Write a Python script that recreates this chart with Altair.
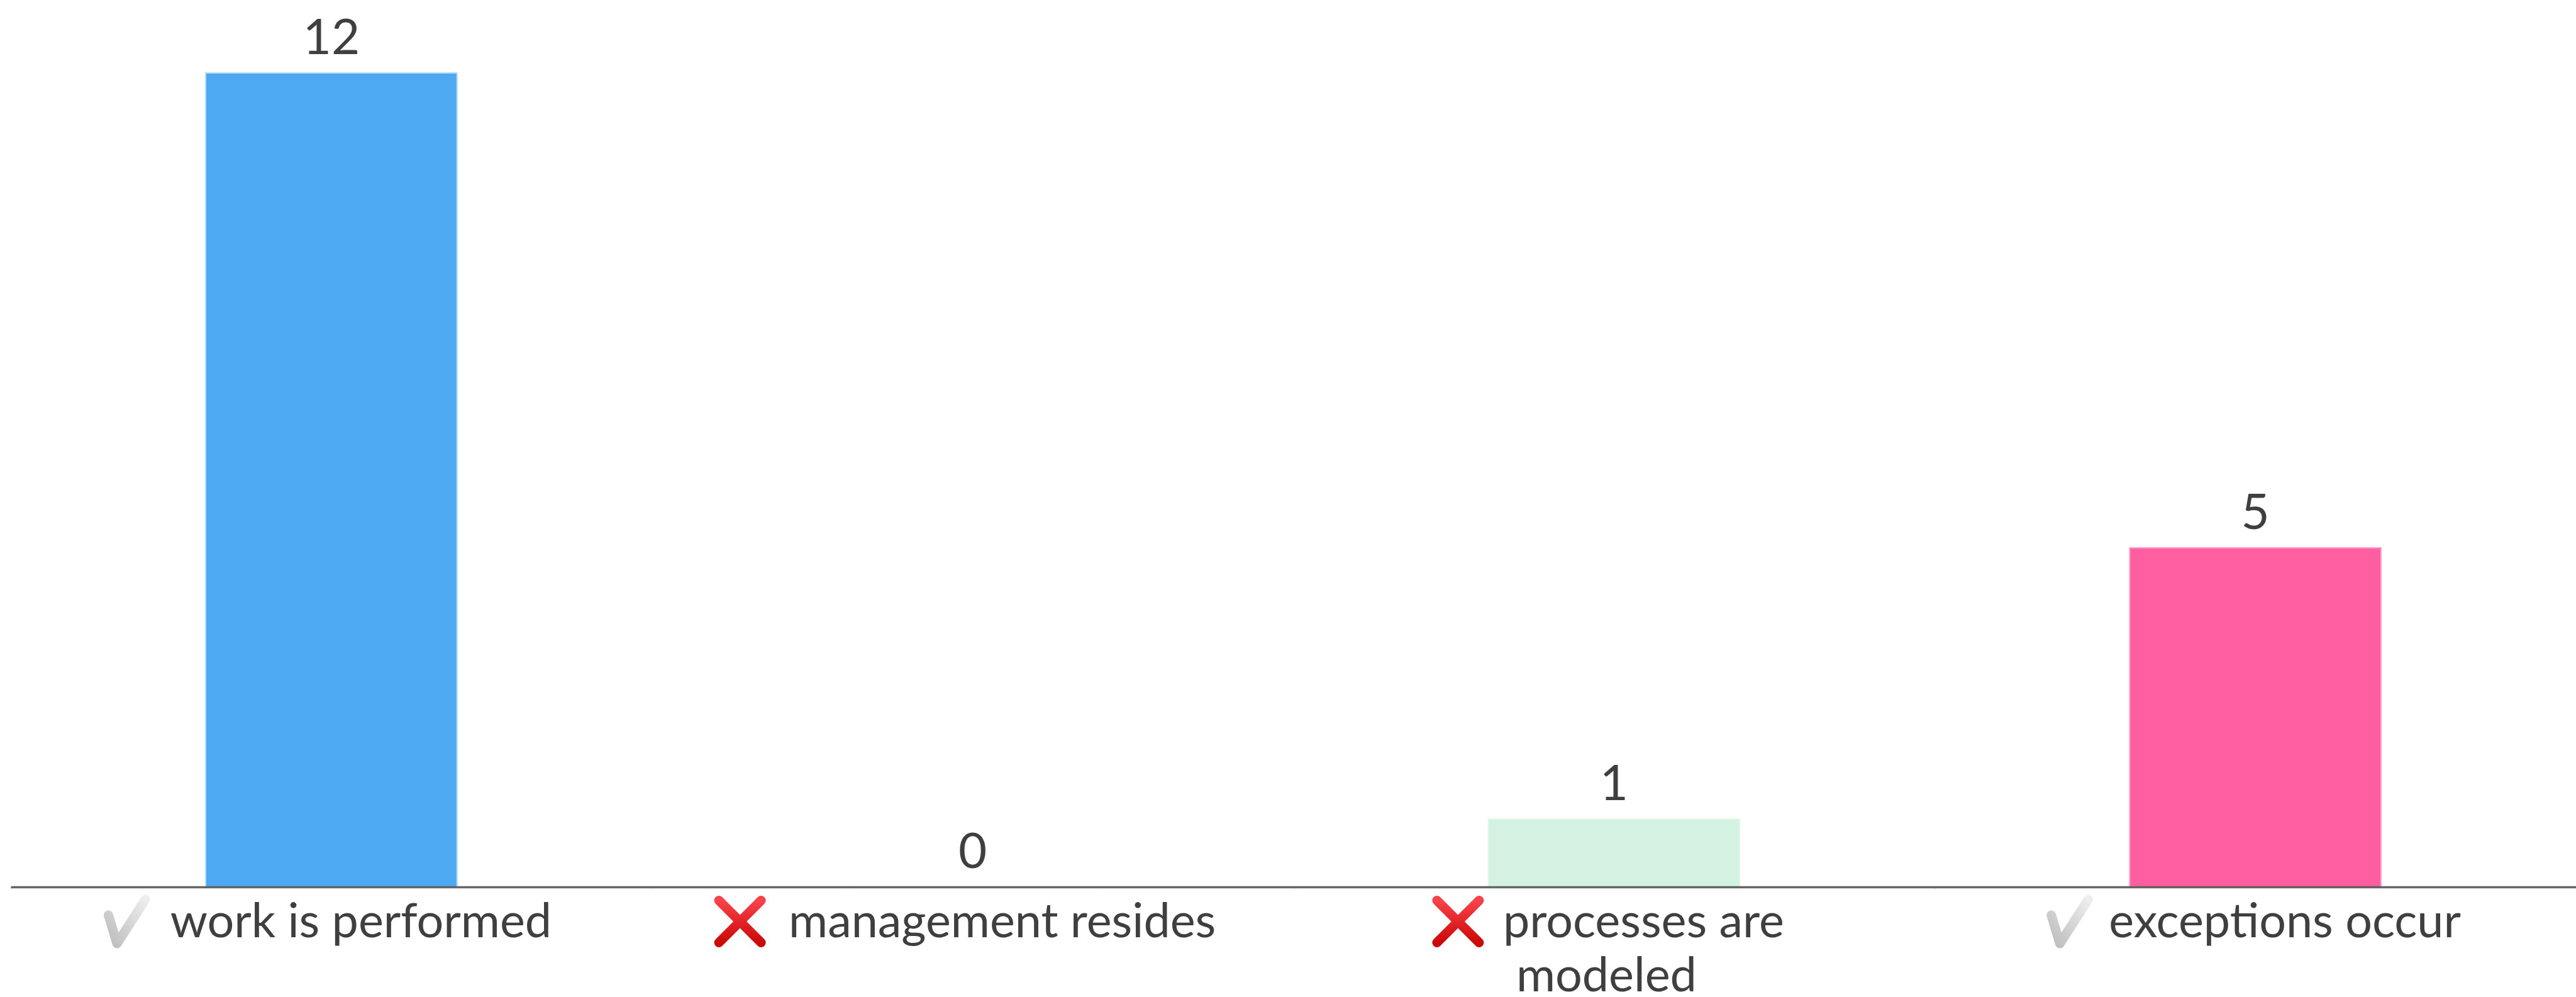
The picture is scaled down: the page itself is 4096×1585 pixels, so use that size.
import altair as alt
import pandas as pd

# Chart values
categories = ["work is performed", "management resides", "processes are modeled", "exceptions occur"]
counts = [12, 0, 1, 5]
first_lines = ["work is performed", "management resides", "processes are", "exceptions occur"]
second_lines = ["", "", "modeled", ""]
status = ["check", "cross", "cross", "check"]
fill_colors = ["#4DA9F1", "#FFD86B", "#D4F2E2", "#FF5FA1"]
edge_colors = ["#B4DCFB", "#FFE9AE", "#E2F7EC", "#FFA6CB"]

# Layout, in window pixels
PLOT_W, PLOT_H = 4079, 1294
LEFT, TOP = 17, 116
ICON_SHIFT = {"work is performed": -325, "management resides": -370,
              "processes are modeled": -248, "exceptions occur": -295}
FONT = "Lato"
TEXT = "#3F3F3F"

CHECK_PATH = "M-0.84,-0.29L-0.45,1L0.84,-1"
CROSS_PATH = "M-1,-1L1,1M1,-1L-1,1"
CHECK_PAINT = alt.LinearGradient(
    gradient="linear", x1=1, y1=0, x2=0, y2=1,
    stops=[alt.GradientStop(offset=0, color="#EDEDED"), alt.GradientStop(offset=1, color="#BDBDBD")],
)
CROSS_PAINT = alt.LinearGradient(
    gradient="linear", x1=0, y1=0, x2=0, y2=1,
    stops=[alt.GradientStop(offset=0, color="#F8424A"), alt.GradientStop(offset=1, color="#CC0808")],
)

df = pd.DataFrame({
    "category": categories,
    "count": counts,
    "first": first_lines,
    "second": second_lines,
    "status": status,
})

x_scale = alt.Scale(domain=categories, paddingInner=0, paddingOuter=0)
# Every layer carries the same axis so the merged chart keeps the baseline
x_axis = alt.Axis(
    labels=False, title=None, tickBand="extent", tickSize=3, tickWidth=1, tickColor="#D0D0D0",
    domainColor="#555555", domainWidth=3.6, domainOpacity=0.9, grid=False, zindex=1,
)
x_enc = alt.X("category:N", scale=x_scale, axis=x_axis)
y_scale = alt.Scale(domain=[0, 12], nice=False)

bars = alt.Chart(df).mark_bar(width=alt.RelativeBandSize(band=0.392), strokeWidth=2).encode(
    x=x_enc,
    y=alt.Y("count:Q", scale=y_scale, axis=None),
    fill=alt.Fill("category:N", scale=alt.Scale(domain=categories, range=fill_colors), legend=None),
    stroke=alt.Stroke("category:N", scale=alt.Scale(domain=categories, range=edge_colors), legend=None),
)

values = alt.Chart(df).mark_text(
    font=FONT, fontSize=78, color=TEXT, baseline="alphabetic", align="center", dy=-30,
).encode(x=x_enc, y=alt.Y("count:Q", scale=y_scale, axis=None), text="count:Q")

line_one = alt.Chart(df).mark_text(
    font=FONT, fontSize=75.5, color=TEXT, baseline="alphabetic", align="center", xOffset=47,
).encode(x=x_enc, y=alt.value(1490 - TOP), text="first:N")

line_two = alt.Chart(df).transform_filter("datum.second != ''").mark_text(
    font=FONT, fontSize=75.5, color=TEXT, baseline="alphabetic", align="center", xOffset=-12,
).encode(x=x_enc, y=alt.value(1576 - TOP), text="second:N")

# One stroked marker per category, set beside the start of its label
icons = []
for name, kind in zip(categories, status):
    icons.append(
        alt.Chart(df).transform_filter(alt.datum.category == name).mark_point(
            shape=CHECK_PATH if kind == "check" else CROSS_PATH,
            size=4900 if kind == "check" else 4500,
            filled=False,
            stroke=CHECK_PAINT if kind == "check" else CROSS_PAINT,
            strokeWidth=15,
            strokeCap="round",
            strokeJoin="round",
            opacity=1,
            xOffset=ICON_SHIFT[name],
        ).encode(x=x_enc, y=alt.value(1465 - TOP))
    )

chart = alt.layer(bars, values, line_one, line_two, *icons).properties(
    width=PLOT_W,
    height=PLOT_H,
    padding={"left": LEFT, "top": TOP, "right": 4096 - LEFT - PLOT_W, "bottom": 1585 - TOP - PLOT_H},
    autosize=alt.AutoSizeParams(type="none"),
    background="white",
).configure_view(stroke=None)

chart.save("out.html", embed_options={"renderer": "svg", "actions": False})
